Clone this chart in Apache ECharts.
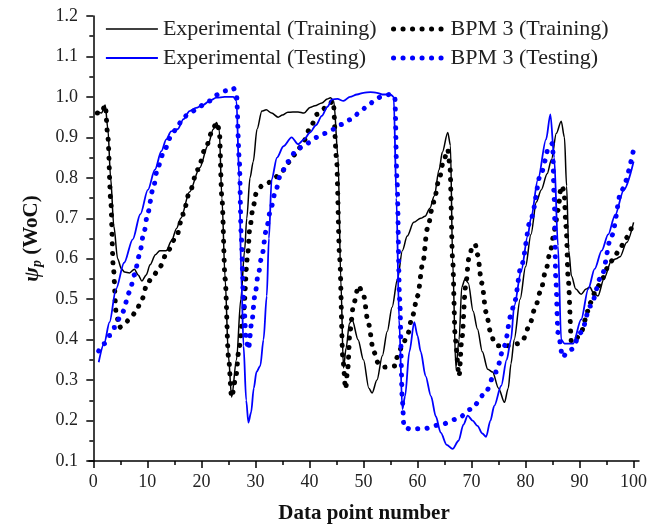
<!DOCTYPE html>
<html lang="en">
<head>
  <meta charset="UTF-8">
  <title>WoC</title>
  <script src="https://cdn.jsdelivr.net/npm/echarts@6/dist/echarts.min.js"></script>
  <style>
    html, body { margin:0; padding:0; background:#fff; }
    #main { width:662px; height:529px; }
  </style>
</head>
<body>
<div id="main"></div>
<script>
  // data: [data point number, psi_p]
  var expTrain = [
    [0.75,0.964],[1.5,0.96],[2.2,0.98],[2.7,0.92],[3.2,0.8],[3.8,0.68],[4.5,0.6],[5.2,0.575],[5.8,0.567],
    [6.7,0.565],[7.6,0.574],[8.3,0.56],[9,0.545],[9.8,0.56],[10.5,0.585],[11.5,0.61],[12.3,0.62],[13.5,0.62],
    [14.5,0.645],[15.4,0.675],[16.2,0.7],[17.8,0.765],[19.7,0.825],[21.2,0.88],[22.2,0.92],[22.8,0.937],
    [23.3,0.92],[23.8,0.75],[24.4,0.55],[25,0.36],[25.6,0.258],[26.5,0.35],[27.3,0.5],[28,0.62],[28.4,0.7],
    [29,0.8],[29.6,0.84],[30.3,0.92],[31.2,0.965],[32,0.968],[33,0.96],[34.2,0.95],[35,0.955],[36,0.962],
    [37.9,0.963],[39,0.96],[40.1,0.974],[41,0.978],[42.3,0.985],[43.3,0.995],[43.9,0.998],[44.5,0.99],
    [45.3,0.85],[45.8,0.55],[46.3,0.33],[46.8,0.38],[47.4,0.44],[47.9,0.45],[49,0.4],[50,0.35],[51,0.28],
    [51.6,0.268],[52.5,0.3],[53.5,0.36],[54.4,0.42],[55.3,0.48],[56.3,0.55],[57.2,0.62],[58.1,0.656],
    [59.3,0.69],[60.6,0.7],[61.4,0.705],[62.3,0.725],[63.1,0.755],[64,0.82],[64.6,0.863],[65.6,0.912],
    [66.1,0.88],[66.5,0.6],[67.1,0.33],[67.7,0.4],[68.2,0.53],[68.8,0.55],[69.4,0.54],[70.3,0.47],
    [71.1,0.426],[72,0.37],[73,0.327],[73.9,0.32],[75,0.28],[76.1,0.245],[76.8,0.28],[77.3,0.34],
    [77.9,0.4],[79,0.5],[80,0.58],[81,0.66],[82,0.74],[82.9,0.77],[84,0.81],[84.8,0.845],[85.7,0.91],
    [86.6,0.94],[87.2,0.9],[87.6,0.78],[88,0.62],[88.5,0.557],[89.3,0.525],[90.3,0.512],[91.2,0.525],
    [91.9,0.53],[92.6,0.515],[93.4,0.508],[94.5,0.55],[95.9,0.595],[96.8,0.6],[97.5,0.605],[98.7,0.64],[100,0.69]
  ];
  var bpmTrain = [
    [0.75,0.96],[1.5,0.96],[2.2,0.98],[2.7,0.9],[3.2,0.75],[3.7,0.58],[4.2,0.47],[4.8,0.43],[5.8,0.44],
    [7,0.455],[7.9,0.47],[9,0.5],[10,0.54],[11.2,0.56],[12.3,0.58],[13.8,0.62],[15.4,0.656],[16.6,0.71],
    [17.8,0.764],[19.3,0.82],[20.9,0.878],[22,0.915],[22.8,0.937],[23.3,0.92],[23.8,0.75],[24.4,0.55],
    [25,0.36],[25.6,0.258],[26.3,0.3],[27,0.38],[27.8,0.47],[28.5,0.6],[29,0.68],[29.6,0.73],[30.2,0.764],
    [31.2,0.78],[32.1,0.785],[33.3,0.796],[34.8,0.815],[36.4,0.84],[37.7,0.865],[38.9,0.89],[40.2,0.925],
    [41.4,0.957],[42.3,0.967],[43.2,0.977],[44.4,0.99],[45,0.85],[45.6,0.6],[46.2,0.35],[46.7,0.278],
    [47.1,0.33],[47.5,0.42],[48.2,0.49],[49.1,0.533],[50,0.51],[50.9,0.44],[51.9,0.37],[52.8,0.34],
    [53.8,0.332],[55,0.333],[55.9,0.335],[56.3,0.36],[57.2,0.385],[58.1,0.41],[59.1,0.46],[60,0.508],
    [61,0.59],[61.8,0.673],[63,0.74],[64,0.796],[64.8,0.84],[65.6,0.87],[66,0.83],[66.5,0.6],[67,0.4],
    [67.7,0.31],[68.2,0.4],[68.9,0.53],[69.5,0.6],[70.2,0.632],[70.7,0.635],[71.1,0.61],[71.9,0.54],
    [72.7,0.468],[73.5,0.42],[74.2,0.394],[75,0.385],[76.1,0.385],[77.5,0.385],[78.6,0.39],[79.5,0.4],
    [80.7,0.434],[81.7,0.475],[82.8,0.52],[83.8,0.574],[84.6,0.62],[85.4,0.673],[86,0.72],[86.6,0.78],
    [87.1,0.77],[87.5,0.68],[87.9,0.549],[88.5,0.394],[89.2,0.4],[90.3,0.418],[91.1,0.45],[91.9,0.49],
    [93,0.52],[94.1,0.549],[95.3,0.58],[96.5,0.607],[97.5,0.625],[98.5,0.65],[100,0.69]
  ];
  var expTest = [
    [1,0.344],[2,0.39],[3,0.443],[4.2,0.525],[5.7,0.59],[7.3,0.648],[8.7,0.71],[10.1,0.77],[11.4,0.82],
    [12.6,0.866],[13.5,0.895],[14.4,0.915],[15.6,0.92],[16.7,0.945],[17.8,0.965],[19,0.973],[20.3,0.98],
    [21.5,0.99],[22.8,0.998],[24.3,1.0],[25.9,1.0],[26.5,0.99],[27,0.8],[27.4,0.55],[27.8,0.385],
    [28.3,0.25],[28.7,0.195],[29.2,0.22],[29.7,0.28],[30.2,0.32],[30.9,0.335],[31.5,0.4],[32.1,0.508],
    [32.5,0.65],[33,0.796],[34,0.85],[35.2,0.878],[36.7,0.9],[37.9,0.883],[39,0.895],[40.1,0.912],
    [41.2,0.93],[42.3,0.953],[43.3,0.975],[44.2,0.994],[45.2,0.995],[46.3,0.99],[47.5,1.0],[48.8,1.006],
    [50,1.01],[51.3,1.012],[52.5,1.01],[53.5,1.006],[55,1.006],[55.6,1.0],[56.1,0.75],[56.6,0.45],
    [57.2,0.228],[57.7,0.26],[58.5,0.37],[59.4,0.443],[60,0.41],[60.6,0.37],[61.5,0.31],[62.5,0.26],
    [63.4,0.21],[64.3,0.17],[65.4,0.14],[66.5,0.13],[67.6,0.15],[68.5,0.19],[69.3,0.212],[70.2,0.2],
    [71.1,0.187],[72,0.168],[72.7,0.16],[73.5,0.2],[74.2,0.236],[75.5,0.286],[76.5,0.35],[77.3,0.4],
    [77.9,0.483],[79.2,0.57],[80.4,0.656],[81,0.7],[82.3,0.796],[83.8,0.895],[84.6,0.957],[85.3,0.85],
    [86,0.632],[86.6,0.4],[87.2,0.39],[88.8,0.39],[90.3,0.45],[91.6,0.525],[92.8,0.575],[94.1,0.62],
    [95.3,0.66],[96.5,0.705],[98.2,0.77],[100,0.84]
  ];
  var bpmTest = [
    [1,0.372],[2,0.39],[3,0.41],[3.9,0.43],[5.4,0.468],[6.7,0.517],[7.6,0.56],[8.5,0.607],[9.3,0.66],
    [10.1,0.714],[11,0.77],[12,0.829],[13.2,0.87],[14.4,0.903],[15.5,0.925],[16.6,0.948],[17.8,0.96],
    [19.1,0.969],[20.3,0.98],[21.6,0.99],[23.1,1.006],[24.5,1.015],[25.9,1.022],[26.5,1.005],[27,0.85],
    [27.4,0.65],[27.8,0.5],[28.3,0.4],[28.7,0.376],[29.3,0.44],[29.9,0.508],[30.5,0.56],[31.2,0.607],
    [32,0.67],[32.7,0.714],[33.6,0.76],[34.6,0.805],[36,0.84],[37.7,0.87],[39.5,0.885],[41.4,0.9],
    [43,0.91],[44.5,0.92],[46,0.932],[47.6,0.944],[49.2,0.96],[50.7,0.977],[52,0.99],[53.2,1.0],
    [54.9,1.006],[55.8,1.0],[56.2,0.8],[56.7,0.5],[57.2,0.25],[57.5,0.183],[58.7,0.179],[61.2,0.18],
    [64.3,0.19],[67.4,0.204],[69.9,0.228],[72.4,0.265],[74.5,0.32],[76.1,0.385],[77.3,0.46],[77.9,0.49],
    [79.2,0.582],[81,0.7],[82.9,0.813],[84.4,0.878],[85,0.885],[85.3,0.75],[85.6,0.55],[86,0.418],
    [86.9,0.356],[87.7,0.37],[88.5,0.376],[90.3,0.418],[92,0.483],[94.1,0.558],[95.9,0.656],[97.8,0.77],[100,0.87]
  ];
  var xMajor = [0,10,20,30,40,50,60,70,80,90,100];
  var xMinor = [5,15,25,35,45,55,65,75,85,95];
  var names = ['Experimental (Training)','BPM 3 (Training)','Experimental (Testing)','BPM 3 (Testing)'];

  var serif = "'Liberation Serif','Times New Roman',serif";
  var chart = echarts.init(document.getElementById('main'));

  var solidStyle = function(c,w){ return {color:c,width:w}; };
  var dotStyle = function(c){ return {color:c,width:5,type:[0.1,9.4],cap:'round'}; };
  var legendText = {fontFamily:serif,fontSize:22,color:'#222'};

  chart.setOption({
    animation:false,
    grid:{left:89,right:23,top:16,bottom:67},
    legend:[
      {data:[{name:names[0],lineStyle:solidStyle('#000',1.5)},{name:names[2],lineStyle:solidStyle('#0000ff',1.8)}],
       orient:'vertical',left:100,top:13,itemWidth:52,itemHeight:14,itemGap:7,
       itemStyle:{opacity:0},textStyle:legendText},
      {data:[{name:names[1],lineStyle:dotStyle('#000')},{name:names[3],lineStyle:dotStyle('#0000ff')}],
       orient:'vertical',left:386,top:13,itemWidth:52,itemHeight:14,itemGap:7,
       itemStyle:{opacity:0},textStyle:legendText}
    ],
    xAxis:[{
      type:'value',min:-0.8,max:101,
      name:'Data point number',nameLocation:'middle',nameGap:42,
      nameTextStyle:{fontFamily:serif,fontSize:21,fontWeight:'bold',color:'#111'},
      axisLine:{lineStyle:{color:'#000',width:1.5}},
      axisTick:{customValues:xMajor,length:7,lineStyle:{width:1.5}},
      axisLabel:{customValues:xMajor,margin:12,fontFamily:serif,fontSize:18,color:'#222'},
      splitLine:{show:false}
    },{
      type:'value',min:-0.8,max:101,position:'bottom',
      axisLine:{show:false},
      axisTick:{customValues:xMinor,length:4,lineStyle:{width:1.5,color:'#000'}},
      axisLabel:{show:false},
      splitLine:{show:false}
    }],
    yAxis:{
      type:'value',min:0.1,max:1.2,interval:0.1,
      name:'{psi|ψ}{sub|p} (WoC)',nameLocation:'middle',nameGap:45,
      nameTextStyle:{fontFamily:serif,fontSize:21,fontWeight:'bold',color:'#111',
        rich:{
          psi:{fontFamily:serif,fontSize:22,fontStyle:'italic',fontWeight:'bold',color:'#111'},
          sub:{fontFamily:serif,fontSize:14,fontStyle:'italic',fontWeight:'bold',color:'#111',padding:[10,0,0,0]}
        }},
      axisLine:{show:true,lineStyle:{color:'#000',width:1.5}},
      axisTick:{show:true,length:7,lineStyle:{width:1.5}},
      minorTick:{show:true,splitNumber:2,length:4,lineStyle:{color:'#000',width:1.5}},
      axisLabel:{margin:11,fontFamily:serif,fontSize:18,color:'#222',formatter:function(v){return v.toFixed(1);}},
      splitLine:{show:false}
    },
    series:[
      {name:names[0],type:'line',data:expTrain,symbol:'none',smooth:0.3,smoothMonotone:'x',
       lineStyle:solidStyle('#000',1.5),itemStyle:{color:'#000'}},
      {name:names[1],type:'line',data:bpmTrain,symbol:'none',smooth:0.3,smoothMonotone:'x',
       lineStyle:dotStyle('#000'),itemStyle:{color:'#000'}},
      {name:names[2],type:'line',data:expTest,symbol:'none',smooth:0.3,smoothMonotone:'x',
       lineStyle:solidStyle('#0000ff',1.8),itemStyle:{color:'#0000ff'}},
      {name:names[3],type:'line',data:bpmTest,symbol:'none',smooth:0.3,smoothMonotone:'x',
       lineStyle:dotStyle('#0000ff'),itemStyle:{color:'#0000ff'}}
    ]
  });
</script>
</body>
</html>
